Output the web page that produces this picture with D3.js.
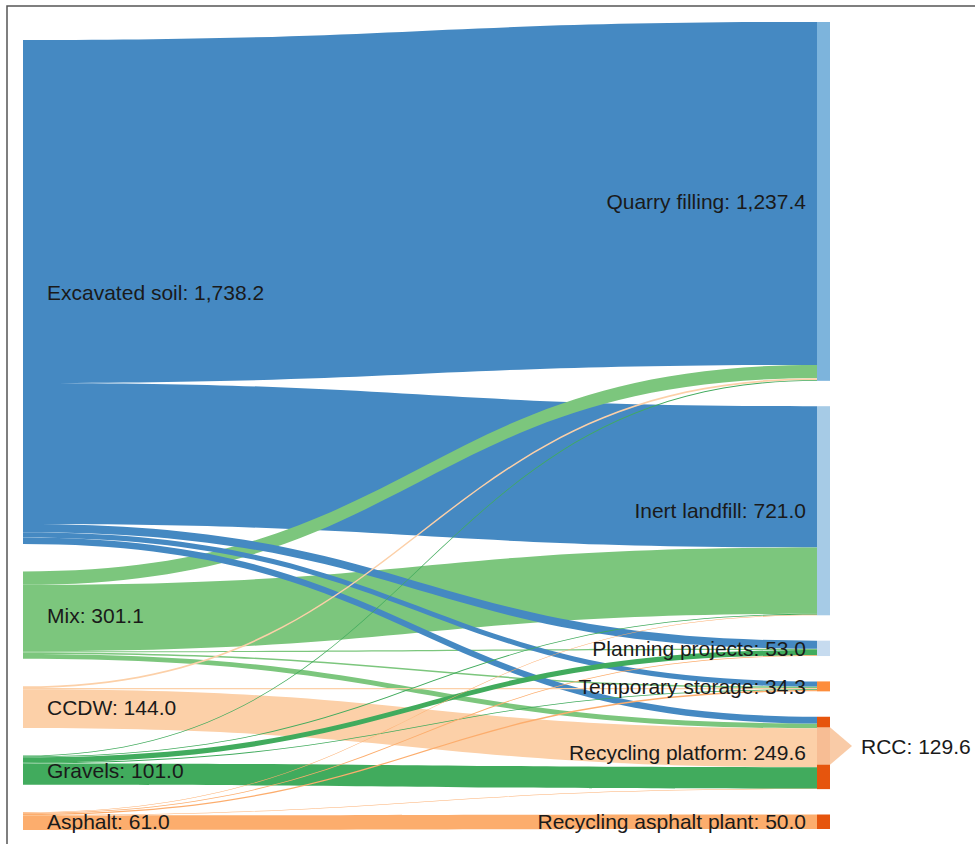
<!DOCTYPE html>
<html><head><meta charset="utf-8">
<script src="https://cdn.jsdelivr.net/npm/d3@7"></script>
<style>
body{margin:0;background:#fff}
svg text{font-family:"Liberation Sans",Arial,Helvetica,sans-serif;font-size:21px;fill:#1a1a1a;}
</style>
</head><body>
<svg id="chart" width="975" height="844"></svg>
<script>
// ---- data ----
const sourceNames = ["Excavated soil", "Mix", "CCDW", "Gravels", "Asphalt"];
const targetNames = ["Quarry filling", "Inert landfill", "Planning projects", "Temporary storage", "Recycling platform", "Recycling asphalt plant"];
const finalName = "RCC";
const finalValue = 129.6;
const sourceColors = ["#4589c2", "#7cc67d", "#fcd0a8", "#41ab5d", "#fcad6d"];
const targetColors = ["#7db4dc", "#a6cbe6", "#c6dbef", "#fd8d3c", "#e6550d", "#e6550d"];
const finalLinkColor = "#f8c7a0";
// links, in drawing order (source index, target index, value)
const linkSource = [0, 0, 1, 1, 1, 1, 1, 0, 0, 0, 2, 2, 2, 3, 3, 3, 3, 3, 4, 4, 4, 4, 4];
const linkTarget = [0, 1, 1, 0, 2, 3, 4, 2, 3, 4, 4, 3, 0, 4, 2, 3, 1, 0, 5, 4, 3, 2, 1];
const linkValue  = [1182.4, 487.0, 229.0, 46.0, 4.0, 5.1, 17.0, 28.0, 17.8, 23.0, 134.0, 4.0, 6.0, 74.0, 18.0, 3.0, 3.0, 3.0, 50.0, 1.6, 4.4, 3.0, 2.0];

// ---- layout ----
const svg = d3.select("#chart");
const links = linkValue.map((v, i) => ({s: linkSource[i], t: linkTarget[i], value: v, order: i}));
const srcNodes = sourceNames.map((n, i) => ({name: n, value: d3.sum(links.filter(l => l.s === i), l => l.value)}));
const tgtNodes = targetNames.map((n, i) => ({name: n, value: d3.sum(links.filter(l => l.t === i), l => l.value)}));
const total = d3.sum(srcNodes, d => d.value);
const ky = d3.scaleLinear().domain([0, total]).range([0, 680.1]);
const fmt = d3.format(",.1f");

function stack(nodes, top, bottom) {
  const pad = (bottom - top - ky(total)) / (nodes.length - 1);
  let y = top;
  nodes.forEach(n => { n.y0 = y; n.h = ky(n.value); n.y1 = y + n.h; y = n.y1 + pad; });
}
stack(srcNodes, 40, 830);
stack(tgtNodes, 22, 829);

const xLeft = 23, xRight = 817, nodeW = 13;

srcNodes.forEach((n, i) => {
  let y = n.y0;
  links.filter(l => l.s === i).sort((a, b) => a.t - b.t).forEach(l => { l.sy0 = y; y += ky(l.value); l.sy1 = y; });
});
tgtNodes.forEach((n, i) => {
  let y = n.y0;
  links.filter(l => l.t === i).sort((a, b) => a.s - b.s).forEach(l => { l.ty0 = y; y += ky(l.value); l.ty1 = y; });
});

function linkPath(l) {
  const x0 = xLeft, x1 = xRight, xm = (x0 + x1) / 2;
  return `M${x0},${l.sy0}C${xm},${l.sy0} ${xm},${l.ty0} ${x1},${l.ty0}` +
         `L${x1},${l.ty1}C${xm},${l.ty1} ${xm},${l.sy1} ${x0},${l.sy1}Z`;
}

svg.append("g").selectAll("path").data(links).join("path")
  .attr("d", linkPath)
  .attr("fill", d => sourceColors[d.s]);

svg.append("g").selectAll("rect").data(tgtNodes).join("rect")
  .attr("x", xRight).attr("width", nodeW)
  .attr("y", d => d.y0).attr("height", d => Math.max(1, d.h))
  .attr("fill", (d, i) => targetColors[i]);

const rec = tgtNodes[4];
const rh = ky(finalValue);
const ay0 = rec.y0 + (rec.h - rh) * 0.3, ay1 = ay0 + rh, am = (ay0 + ay1) / 2;
svg.append("path")
  .attr("d", `M${xRight},${ay0}L${xRight + nodeW},${ay0}L${xRight + nodeW + 22},${am}L${xRight + nodeW},${ay1}L${xRight},${ay1}Z`)
  .attr("fill", finalLinkColor).attr("opacity", 0.92);

svg.append("g").selectAll("text").data(srcNodes).join("text")
  .attr("x", xLeft + 24).attr("y", d => (d.y0 + d.y1) / 2).attr("dy", "0.36em")
  .text(d => `${d.name}: ${fmt(d.value)}`);
svg.append("g").selectAll("text").data(tgtNodes).join("text")
  .attr("x", xRight - 11).attr("y", d => (d.y0 + d.y1) / 2).attr("dy", "0.36em")
  .attr("text-anchor", "end")
  .text(d => `${d.name}: ${fmt(d.value)}`);
svg.append("text").attr("x", xRight + nodeW + 31).attr("y", am).attr("dy", "0.36em")
  .text(`${finalName}: ${fmt(finalValue)}`);

svg.append("path").attr("d", "M7,844V6H975").attr("fill", "none").attr("stroke", "#555").attr("stroke-width", 1.5);
</script>
</body></html>
